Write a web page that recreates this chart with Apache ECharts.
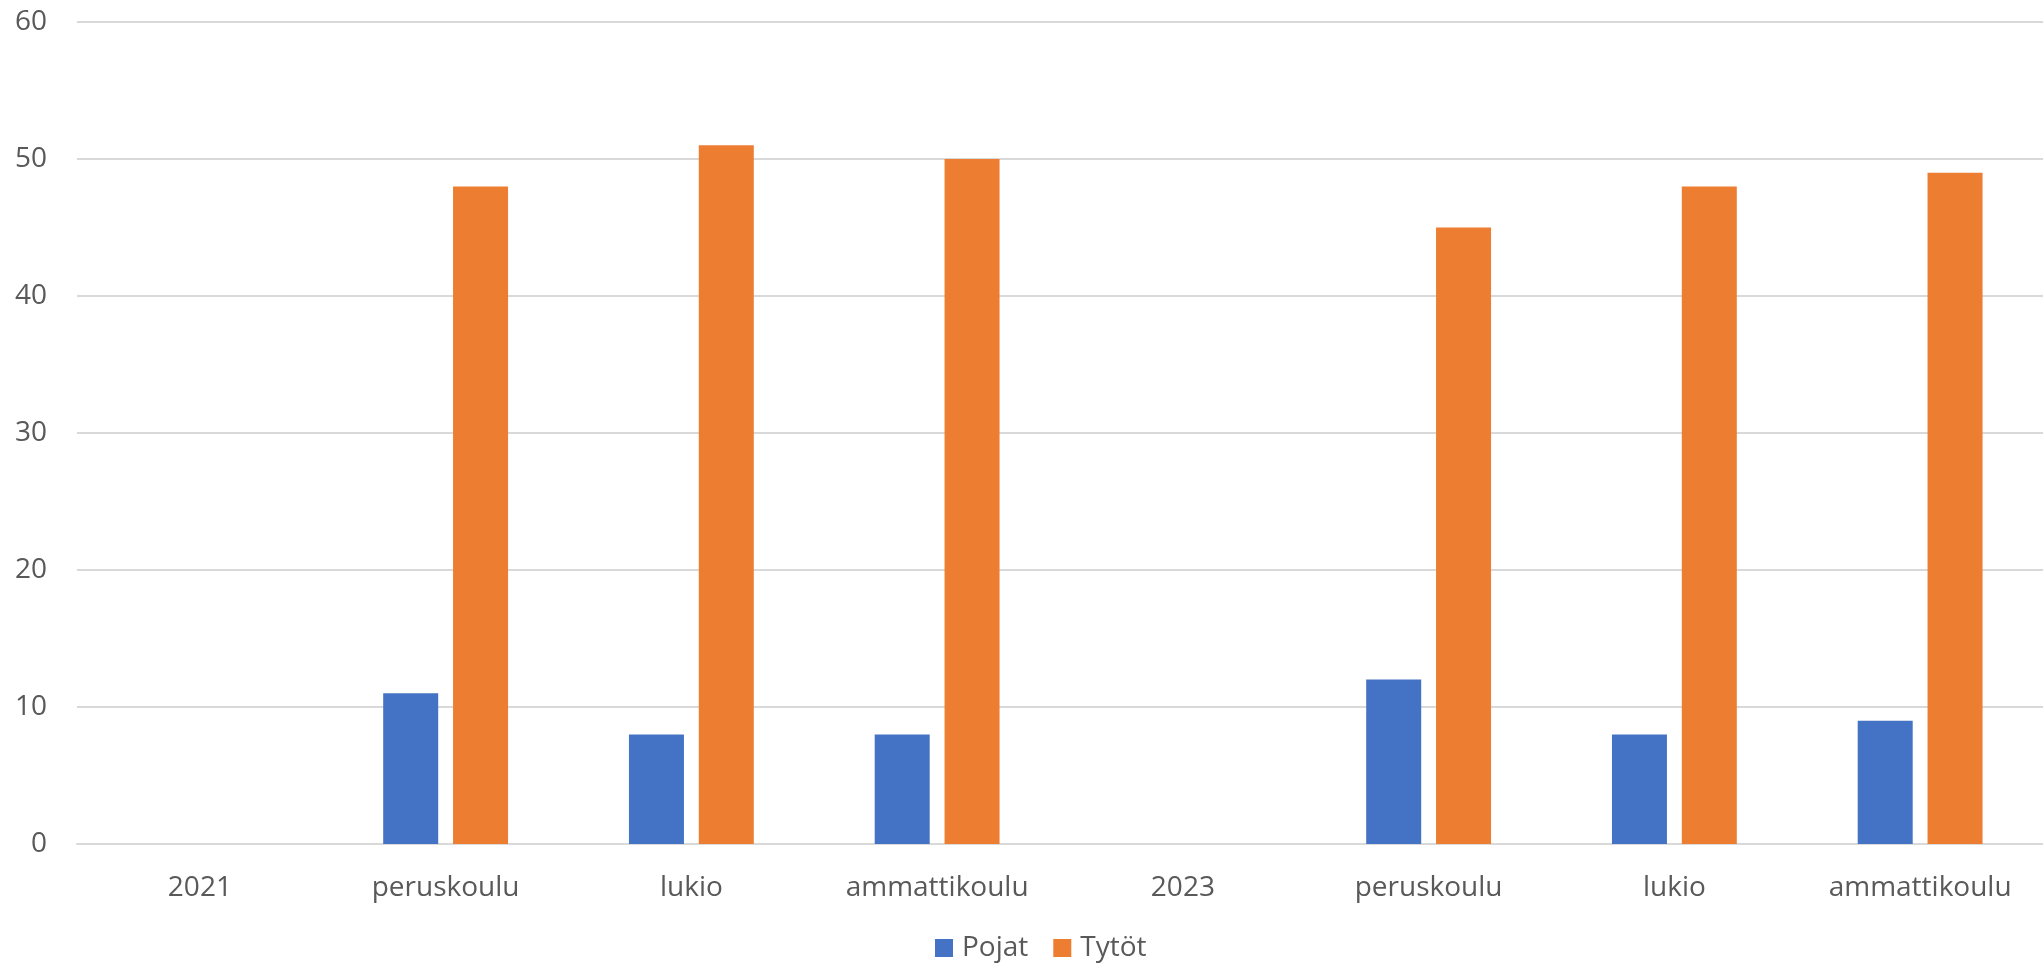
<!DOCTYPE html>
<html>
<head>
<meta charset="utf-8">
<script src="https://cdn.jsdelivr.net/npm/echarts@6/dist/echarts.min.js"></script>
<style>
html,body{margin:0;padding:0;background:#fff;}
#c{width:2043px;height:963px;}
</style>
</head>
<body>
<div id="c"></div>
<script>
const categories = ['2021','peruskoulu','lukio','ammattikoulu','2023','peruskoulu','lukio','ammattikoulu'];
const pojat = [null, 11, 8, 8, null, 12, 8, 9];
const tytot = [null, 48, 51, 50, null, 45, 48, 49];
const seriesNames = ['Pojat','Tytöt'];

const font = '"Open Sans", sans-serif';
const chart = echarts.init(document.getElementById('c'));
chart.setOption({
  animation: false,
  color: ['#4472C4','#ED7D31'],
  grid: {left: 77, right: 0, top: 22, bottom: 119, containLabel: false},
  legend: {
    top: 934, left: 935, padding: 0,
    itemWidth: 18, itemHeight: 18, itemGap: 25,
    icon: 'rect',
    textStyle: {color: '#595959', fontSize: 28, fontFamily: font, padding: [0, 0, 0, 4]},
    data: seriesNames
  },
  xAxis: {
    type: 'category',
    data: categories,
    axisLine: {lineStyle: {color: '#d9d9d9', width: 2}},
    axisTick: {show: false},
    axisLabel: {color: '#595959', fontSize: 28, fontFamily: font, margin: 30}
  },
  yAxis: {
    type: 'value', min: 0, max: 60, interval: 10,
    axisLine: {show: false}, axisTick: {show: false},
    splitLine: {lineStyle: {color: '#d9d9d9', width: 2}},
    axisLabel: {color: '#595959', fontSize: 28, fontFamily: font, margin: 30}
  },
  series: [
    {name: seriesNames[0], type: 'bar', data: pojat, barWidth: 55, barGap: '27%'},
    {name: seriesNames[1], type: 'bar', data: tytot, barWidth: 55, barGap: '27%'}
  ]
});
</script>
</body>
</html>
